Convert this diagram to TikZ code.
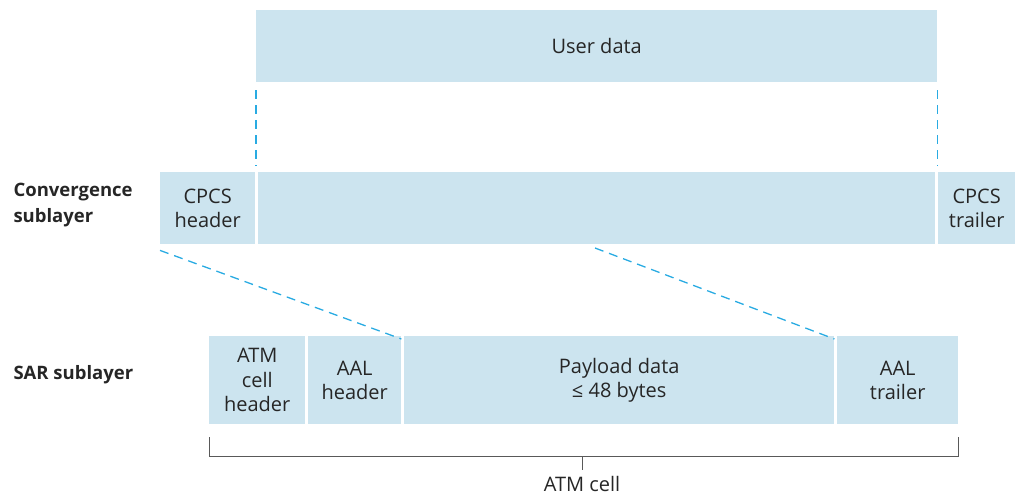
\documentclass[tikz,border=0pt]{standalone}
\usepackage{fontspec}
\setmainfont{Open Sans}
\begin{document}
\begin{tikzpicture}[x=1pt,y=-1pt,
  box/.style={fill=boxfill,draw=none,inner sep=0pt,anchor=north west,align=center,font=\fontsize{20}{24.5}\selectfont,text=black!85},
  lab/.style={font=\fontsize{18.5}{26}\selectfont\bfseries,align=left,anchor=west,text=black!85},
  dashline/.style={draw=dashcol,line width=1.3pt,dash pattern=on 9pt off 6pt},
  brace/.style={draw=black!65,line width=1pt}]
\definecolor{boxfill}{HTML}{CCE4EF}
\definecolor{dashcol}{HTML}{29ABE2}
\useasboundingbox (0,0) rectangle (1015,497);
% user data
\node[box,minimum width=681pt,minimum height=72pt] (user) at (256,10) {User data};
% convergence
\node[box,minimum width=95pt,minimum height=72pt] (ch) at (160,172) {CPCS\\header};
\node[box,minimum width=677pt,minimum height=72pt] (cm) at (258,172) {};
\node[box,minimum width=77pt,minimum height=72pt] (ct) at (938,172) {CPCS\\trailer};
% SAR
\node[box,minimum width=96pt,minimum height=88pt] (atm) at (209,336) {ATM\\cell\\header};
\node[box,minimum width=93pt,minimum height=88pt] (ah) at (308,336) {AAL\\header};
\node[box,minimum width=430pt,minimum height=88pt] (pl) at (404,336) {Payload data\\≤ 48 bytes};
\node[box,minimum width=121pt,minimum height=88pt] (at) at (837,336) {AAL\\trailer};
% labels
\node[lab] (conv) at (10,205) {Convergence\\sublayer};
\node[lab] (sar) at (10,375) {SAR sublayer};
% dashed connectors
\coordinate (d1) at (595,248);
\draw[dashline] ([yshift=-8pt]user.south west) -- ([xshift=-2pt,yshift=6pt]cm.north west);
\draw[dashline] ([yshift=-8pt]user.south east) -- ([xshift=2pt,yshift=6pt]cm.north east);
\draw[dashline] ([yshift=-6pt]ch.south west) -- ([yshift=-3pt]ah.north east);
\draw[dashline] (d1) -- ([yshift=-3pt]pl.north east);
% bracket
\coordinate (bl) at (209,437);
\coordinate (br) at (958,437);
\coordinate (bm) at (582,456);
\draw[brace] (bl) |- (br |- bm) -- (br);
\draw[brace] (bm) -- ++(0,14) coordinate (bt);
\node[font=\fontsize{20}{24}\selectfont,text=black!85] (cell) at (582,484) {ATM cell};
\end{tikzpicture}
\end{document}
